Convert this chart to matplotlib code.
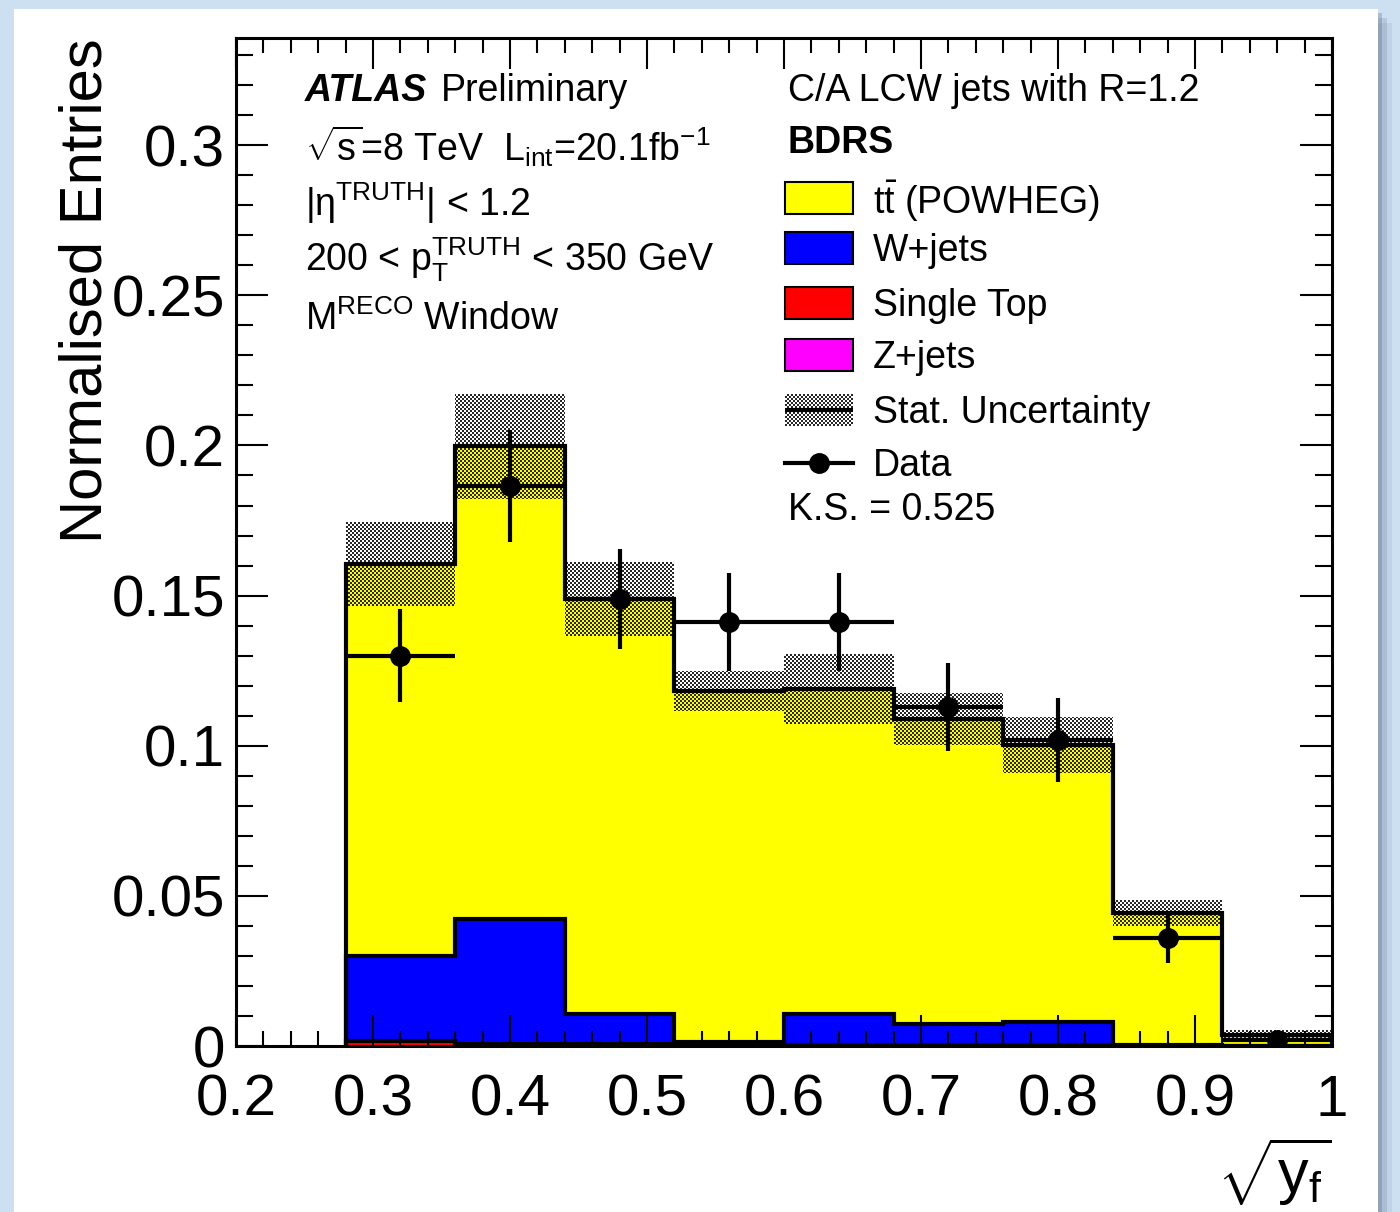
#!/usr/bin/env python3
"""Stacked MC vs data plot of sqrt(y_f), ATLAS preliminary style."""

import numpy as np
import matplotlib
matplotlib.use('Agg')
import matplotlib.pyplot as plt
from matplotlib.patches import Rectangle

# ---- data ----
bin_edges = [0.28, 0.36, 0.44, 0.52, 0.60, 0.68, 0.76, 0.84, 0.92, 1.00]
ttbar = [0.1304, 0.1574, 0.1383, 0.1169, 0.1082, 0.1015, 0.0922, 0.0439, 0.0037]
wjets = [0.0286, 0.0416, 0.0101, 0.0008, 0.0103, 0.0070, 0.0077, 0.0003, 0.0000]
single_top = [0.0012, 0.0006, 0.0004, 0.0004, 0.0003, 0.0003, 0.0002, 0.0001, 0.0000]
zjets = [0.0003, 0.0002, 0.0001, 0.0001, 0.0001, 0.0001, 0.0001, 0.0000, 0.0000]
stat_unc = [0.0140, 0.0175, 0.0124, 0.0067, 0.0118, 0.0085, 0.0094, 0.0042, 0.0017]

data_x = [0.32, 0.40, 0.48, 0.56, 0.64, 0.72, 0.80, 0.88, 0.96]
data_y = [0.1299, 0.1865, 0.1489, 0.1412, 0.1412, 0.1129, 0.1019, 0.0360, 0.0020]
data_err = [0.0155, 0.0187, 0.0167, 0.0163, 0.0163, 0.0145, 0.0140, 0.0083, 0.0015]
data_xerr = 0.04

W, H = 1400, 1212
YMAX = 0.3357

plt.rcParams['font.family'] = ['Liberation Sans', 'DejaVu Sans']
plt.rcParams['mathtext.fontset'] = 'custom'
plt.rcParams['mathtext.rm'] = 'Liberation Sans'
plt.rcParams['mathtext.it'] = 'Liberation Sans:italic'
plt.rcParams['mathtext.bf'] = 'Liberation Sans:bold'


def px(x, y):
    """pixel position (from top-left) -> figure fraction"""
    return x / W, 1 - y / H


def checker(nx, ny):
    """RGBA checkerboard texture, black / transparent"""
    ii, jj = np.indices((ny, nx))
    img = np.zeros((ny, nx, 4))
    img[..., 3] = ((ii + jj) % 2 == 0) * 0.85
    return img


fig = plt.figure(figsize=(W / 100, H / 100), dpi=100)
fig.patch.set_facecolor('#cde0f2')
# white panel with a soft shadow on the right
for off, a in [(14, 0.10), (9, 0.18), (4, 0.28)]:
    fig.patches.append(Rectangle(px(14 + off, 1212), (1378 - 14) / W, (1212 - 9 - off) / H,
                                 transform=fig.transFigure, facecolor='#50607a',
                                 alpha=a, edgecolor='none', zorder=-3))
fig.patches.append(Rectangle(px(14, 1212), (1378 - 14) / W, (1212 - 9) / H,
                             transform=fig.transFigure, facecolor='white',
                             edgecolor='none', zorder=-2))

ax = fig.add_axes([236 / W, 1 - 1046 / H, (1332 - 236) / W, (1046 - 38) / H])
ax.set_facecolor('white')

edges = np.array(bin_edges)
z = np.array(zjets)
st = z + np.array(single_top)
wj = st + np.array(wjets)
total = wj + np.array(ttbar)
unc = np.array(stat_unc)

# stacked fills
ax.stairs(total, edges, baseline=wj, fill=True, color='#ffff00', zorder=1)
ax.stairs(wj, edges, baseline=st, fill=True, color='#0000ff', zorder=1)
ax.stairs(st, edges, baseline=z, fill=True, color='#ff0000', zorder=1)
ax.stairs(z, edges, baseline=0, fill=True, color='#ff00ff', zorder=1)

# stat uncertainty band (checkered texture clipped to the band)
band = ax.stairs(total + unc, edges, baseline=total - unc, fill=True,
                 facecolor='none', edgecolor='none', linewidth=0, zorder=2)
tex = ax.imshow(checker(548, 504), extent=(0.2, 1.0, 0, YMAX), aspect='auto',
                interpolation='nearest', origin='lower', zorder=2)
tex.set_clip_path(band)

# outlines
for h in [total, wj, st]:
    ax.stairs(h, edges, baseline=0, fill=False, color='black', linewidth=3, zorder=3)

ax.errorbar(data_x, data_y, yerr=data_err, xerr=data_xerr, fmt='o', color='black',
            markersize=14, elinewidth=3, capsize=0, zorder=5)

ax.set_xlim(0.2, 1.0)
ax.set_ylim(0, YMAX)
ax.set_xticks(np.arange(0.2, 1.01, 0.1))
ax.set_xticklabels(['0.2', '0.3', '0.4', '0.5', '0.6', '0.7', '0.8', '0.9', '1'])
ax.set_xticks(np.arange(0.2, 1.001, 0.02), minor=True)
ax.set_yticks([0, 0.05, 0.1, 0.15, 0.2, 0.25, 0.3])
ax.set_yticklabels(['0', '0.05', '0.1', '0.15', '0.2', '0.25', '0.3'])
ax.set_yticks(np.arange(0, 0.335, 0.01), minor=True)
ax.tick_params(which='both', direction='in', top=True, right=True, width=1.5,
               labelsize=42, colors='black')
ax.tick_params(axis='x', which='major', length=22, pad=20)
ax.tick_params(axis='x', which='minor', length=11)
ax.tick_params(axis='y', which='major', length=23, pad=8)
ax.tick_params(axis='y', which='minor', length=12)
for s in ax.spines.values():
    s.set_linewidth(2.2)

ax.set_ylabel('Normalised Entries', fontsize=43, loc='top')
ax.yaxis.set_label_coords(-0.112, 1.0)
fig.text(*px(1332, 1172), r'$\sqrt{\mathrm{y}_{\mathrm{f}}}$', ha='right', va='center',
         fontsize=44)

# labels, top left
fs = 27
dy = 3
fig.text(*px(305, 88 + dy), 'ATLAS', fontsize=fs, fontweight='bold', fontstyle='italic',
         va='center')
fig.text(*px(441, 88 + dy), 'Preliminary', fontsize=fs, va='center')
fig.text(*px(305, 143 + dy), r'$\sqrt{\mathrm{s}}$=8 TeV  L$_{\mathrm{int}}$=20.1fb$^{\mathrm{-1}}$',
         fontsize=fs, va='center')
fig.text(*px(305, 200 + dy), r'$|\mathrm{\eta}^{\mathrm{TRUTH}}|$ < 1.2', fontsize=fs,
         va='center')
fig.text(*px(305, 257 + dy), r'200 < p$_{\mathrm{T}}^{\mathrm{TRUTH}}$ < 350 GeV',
         fontsize=fs, va='center')
fig.text(*px(305, 316 + dy), r'M$^{\mathrm{RECO}}$ Window', fontsize=fs, va='center')

# labels, top right + legend
fig.text(*px(788, 88 + dy), 'C/A LCW jets with R=1.2', fontsize=fs, va='center')
fig.text(*px(788, 140 + dy), 'BDRS', fontsize=fs, fontweight='bold', va='center')

legend_rows = [
    (r't$\bar{\mathrm{t}}$ (POWHEG)', '#ffff00', 198),
    ('W+jets', '#0000ff', 248),
    ('Single Top', '#ff0000', 303),
    ('Z+jets', '#ff00ff', 355),
]
for label, col, yc in legend_rows:
    x0, y0 = px(785, yc + 16)
    fig.patches.append(Rectangle((x0, y0), 68 / W, 32 / H, transform=fig.transFigure,
                                 facecolor=col, edgecolor='black', linewidth=1.5))
    fig.text(*px(873, yc + dy), label, fontsize=fs, va='center')

# stat. uncertainty legend entry: checker box with the total line through it
lax = fig.add_axes([785 / W, 1 - (410 + 16) / H, 68 / W, 32 / H])
lax.imshow(checker(34, 16), extent=(0, 1, 0, 1), aspect='auto',
           interpolation='nearest', origin='lower')
lax.plot([0, 1], [0.5, 0.5], color='black', linewidth=3)
lax.set_xlim(0, 1)
lax.set_ylim(0, 1)
lax.axis('off')
fig.text(*px(873, 410 + dy), 'Stat. Uncertainty', fontsize=fs, va='center')

fig.add_artist(plt.Line2D([785 / W, 853 / W], [1 - 463 / H] * 2,
                          transform=fig.transFigure, color='black', linewidth=3))
fig.add_artist(plt.Line2D([819 / W], [1 - 463 / H], transform=fig.transFigure,
                          color='black', marker='o', markersize=14))
fig.text(*px(873, 463 + dy), 'Data', fontsize=fs, va='center')
fig.text(*px(788, 507 + dy), 'K.S. = 0.525', fontsize=fs, va='center')

fig.savefig('out.png', dpi=100, facecolor=fig.get_facecolor())
